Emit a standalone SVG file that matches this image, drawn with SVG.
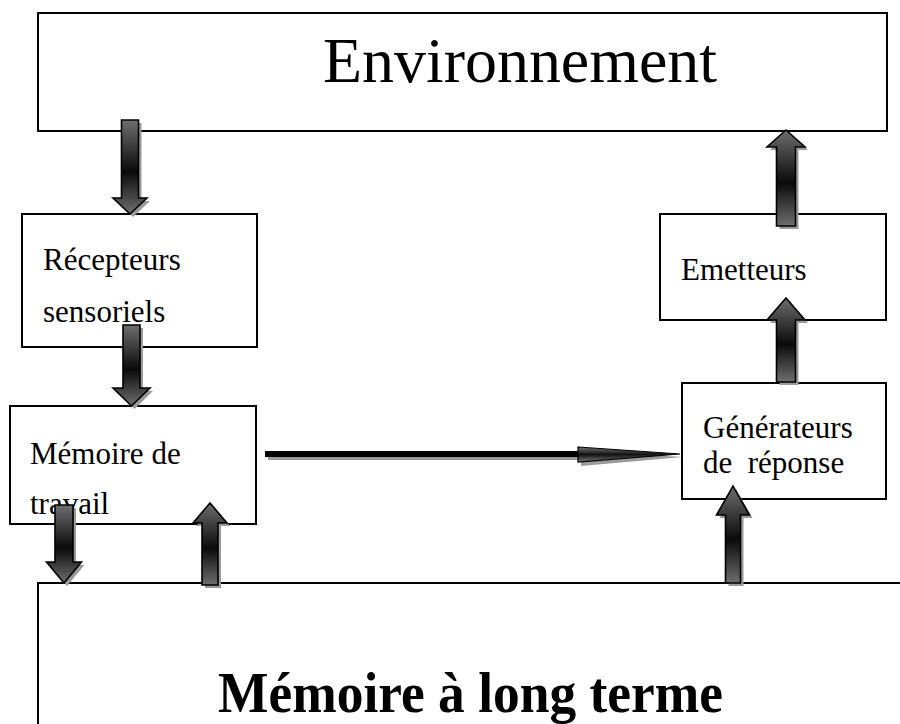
<svg xmlns="http://www.w3.org/2000/svg" width="900" height="724" viewBox="0 0 900 724">
<defs>
<linearGradient id="gv" x1="0" y1="0" x2="0" y2="1">
<stop offset="0" stop-color="#6e6e6e"/>
<stop offset="0.55" stop-color="#0a0a0a"/>
<stop offset="1" stop-color="#6e6e6e"/>
</linearGradient>
<linearGradient id="gh" x1="0" y1="0" x2="0" y2="1">
<stop offset="0" stop-color="#777"/>
<stop offset="0.5" stop-color="#111"/>
<stop offset="1" stop-color="#777"/>
</linearGradient>
</defs>
<style>
.box{fill:#fff;stroke:#000;stroke-width:2}
.lbl{font-family:"Liberation Serif","Times New Roman",serif;font-size:31px;fill:#000}
.big{font-family:"Liberation Serif","Times New Roman",serif;fill:#000}
.arr{fill:url(#gv);stroke:#000;stroke-width:1.6;stroke-linejoin:miter}
.sh{fill:#9a9a9a;stroke:none}
</style>
<rect width="900" height="724" fill="#fff"/>

<g id="environnement">
<rect class="box" x="38" y="13" width="849" height="118"/>
<text class="big" x="323" y="82" font-size="63" textLength="394" lengthAdjust="spacingAndGlyphs">Environnement</text>
</g>
<g id="recepteurs">
<rect class="box" x="22" y="214" width="235" height="133"/>
<text class="lbl" x="43" y="270">Récepteurs</text>
<text class="lbl" x="43" y="322">sensoriels</text>
</g>
<g id="memoire-travail">
<rect class="box" x="10" y="406" width="246" height="118"/>
<text class="lbl" x="30" y="464">Mémoire de</text>
<text class="lbl" x="30" y="514">travail</text>
</g>
<g id="emetteurs">
<rect class="box" x="660" y="214" width="226" height="106"/>
<text class="lbl" x="681" y="280">Emetteurs</text>
</g>
<g id="generateurs">
<rect class="box" x="682" y="383" width="204" height="116"/>
<text class="lbl" x="703" y="438">Générateurs</text>
<text class="lbl" x="703" y="473" xml:space="preserve">de  réponse</text>
</g>
<g id="memoire-long-terme">
<rect class="box" x="38" y="583" width="900" height="200"/>
<text class="big" x="218" y="712" font-size="58" font-weight="bold" textLength="505" lengthAdjust="spacingAndGlyphs">Mémoire à long terme</text>
</g>

<g id="connectors">
<!-- Environnement -> Récepteurs (down) -->
<polygon class="sh" transform="translate(3,3)" points="121.5,120 138.5,120 138.5,198 147,198 130,214 113,198 121.5,198"/>
<polygon class="arr" points="121.5,120 138.5,120 138.5,198 147,198 130,214 113,198 121.5,198"/>
<!-- Emetteurs -> Environnement (up) -->
<polygon class="sh" transform="translate(3,3)" points="776.5,226 795.5,226 795.5,147 805,147 786,130 767,147 776.5,147"/>
<polygon class="arr" points="776.5,226 795.5,226 795.5,147 805,147 786,130 767,147 776.5,147"/>
<!-- Récepteurs -> Mémoire de travail (down) -->
<polygon class="sh" transform="translate(3,3)" points="123,325 140,325 140,388 150,388 131.5,406 113,388 123,388"/>
<polygon class="arr" points="123,325 140,325 140,388 150,388 131.5,406 113,388 123,388"/>
<!-- Générateurs -> Emetteurs (up) -->
<polygon class="sh" transform="translate(3,3)" points="776.5,382 795.5,382 795.5,320 805,320 786,298 767,320 776.5,320"/>
<polygon class="arr" points="776.5,382 795.5,382 795.5,320 805,320 786,298 767,320 776.5,320"/>
<!-- Mémoire de travail -> Générateurs (horizontal) -->
<rect x="268" y="455" width="313" height="5" fill="#9a9a9a"/>
<polygon points="581,451 683,457 581,466" fill="#9a9a9a"/>
<rect x="265" y="451" width="314" height="6" fill="#000"/>
<polygon points="578,447 680,454 578,462" fill="url(#gh)" stroke="#000" stroke-width="1.2"/>
<!-- Mémoire de travail -> Mémoire à long terme (down) -->
<polygon class="sh" transform="translate(3,3)" points="55,505 73,505 73,562 81.5,562 64,583 46.5,562 55,562"/>
<polygon class="arr" points="55,505 73,505 73,562 81.5,562 64,583 46.5,562 55,562"/>
<!-- Mémoire à long terme -> Mémoire de travail (up) -->
<polygon class="sh" transform="translate(3,3)" points="202,585 218,585 218,523 227,523 210,503 193,523 202,523"/>
<polygon class="arr" points="202,585 218,585 218,523 227,523 210,503 193,523 202,523"/>
<!-- Mémoire à long terme -> Générateurs (up) -->
<polygon class="sh" transform="translate(3,3)" points="725.5,583 740.5,583 740.5,515 749.5,515 733,486 716.5,515 725.5,515"/>
<polygon class="arr" points="725.5,583 740.5,583 740.5,515 749.5,515 733,486 716.5,515 725.5,515"/>
</g>
</svg>
